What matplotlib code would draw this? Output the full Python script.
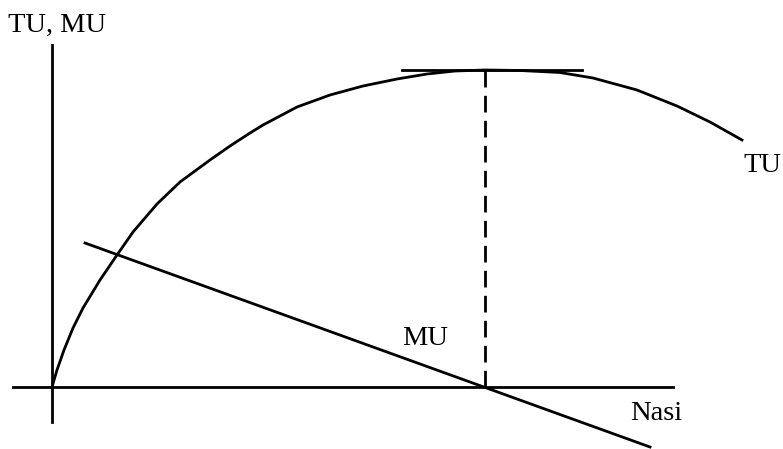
import matplotlib.pyplot as plt

# total utility curve (quantity, utility), arbitrary units
q_tu = [0, 5, 12, 21, 31, 48, 65, 81, 105, 128, 158, 178, 198, 211, 245,
        278, 311, 345, 375, 403, 433, 468, 508, 541, 585, 625, 658, 690]
tu = [0, 17, 37, 59, 79, 107, 132, 155, 183, 205, 227, 241, 254, 262, 280,
      292, 301, 308, 313, 316, 317, 316.5, 314.5, 309, 297, 281, 265, 247]

# marginal utility line
q_mu = [33, 598]
mu = [144, -60]

# point of max TU
q_max = 433
tu_max = 317
tangent_q = [350, 530]

plt.rcParams['font.family'] = ['Liberation Serif', 'DejaVu Serif']

fig = plt.figure(figsize=(7.83, 4.49), dpi=100)
ax = fig.add_axes([0, 0, 1, 1])
ax.set_xlim(-52, 731)
ax.set_ylim(-62, 387)
ax.axis('off')

lw = 2.0
# axes
ax.plot([0, 0], [-35, 342], color='black', lw=lw)
ax.plot([-39, 621], [0, 0], color='black', lw=lw)

ax.plot(q_tu, tu, color='black', lw=lw, solid_joinstyle='round')
ax.plot(q_mu, mu, color='black', lw=lw)
ax.plot(tangent_q, [tu_max, tu_max], color='black', lw=lw)
ax.plot([q_max, q_max], [0, tu_max], color='black', lw=lw, dashes=(6, 3))

fs = 20.5
ax.text(-44, 355, 'TU, MU', fontsize=fs, va='baseline')
ax.text(350, 42, 'MU', fontsize=fs, va='baseline')
ax.text(578, -33, 'Nasi', fontsize=fs, va='baseline')
ax.text(691, 215, 'TU', fontsize=fs, va='baseline')

fig.savefig('out.png', dpi=100)
